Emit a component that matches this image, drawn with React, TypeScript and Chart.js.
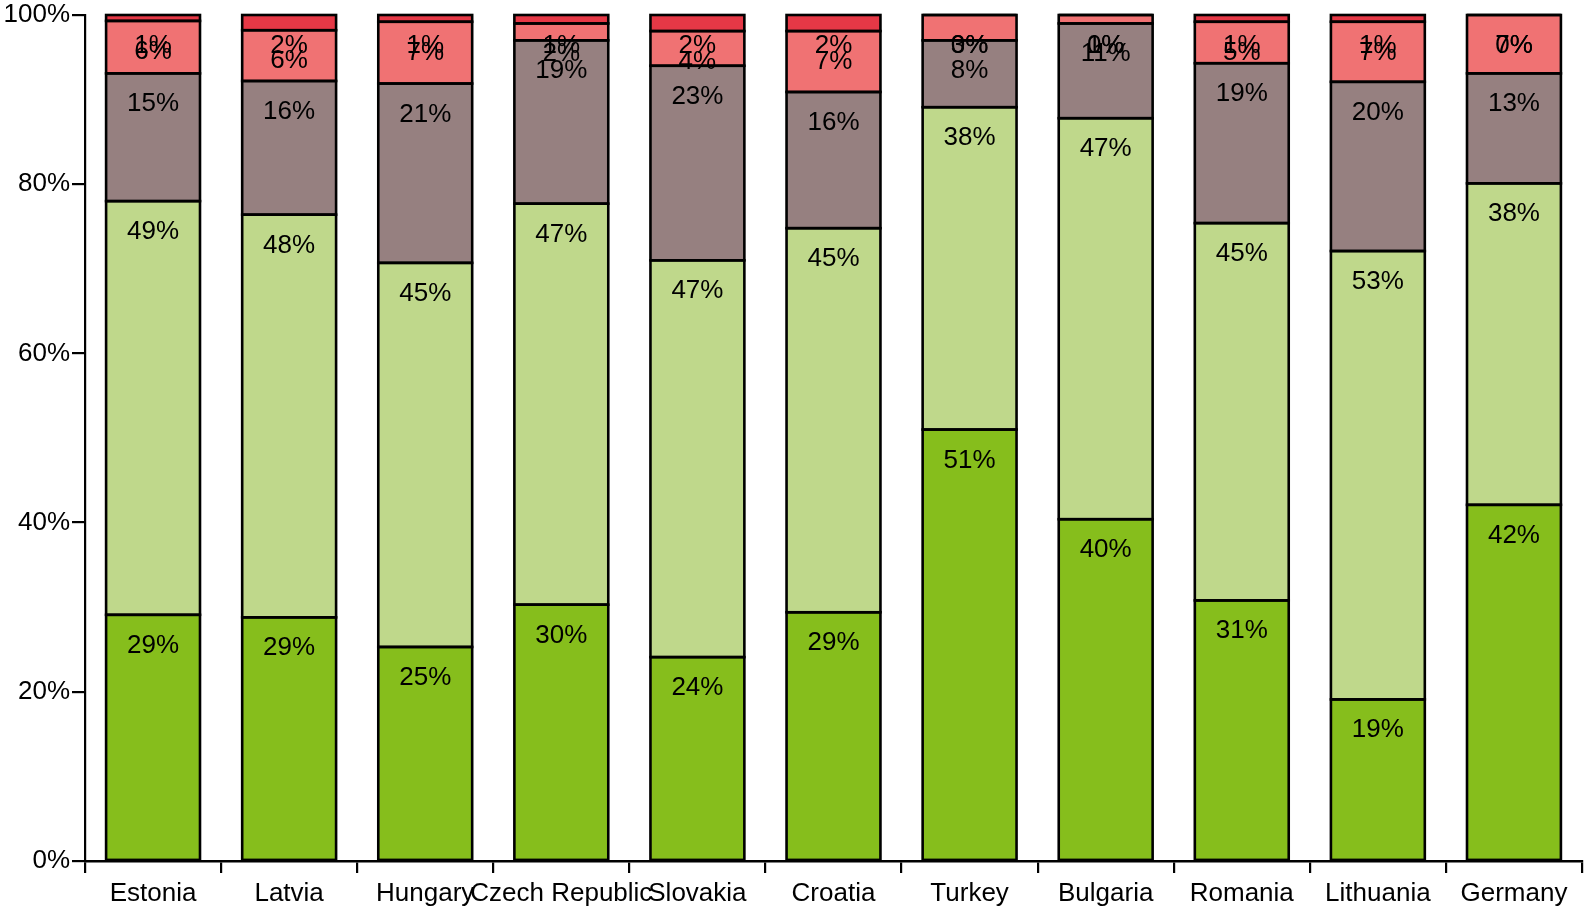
import React, { useEffect, useRef } from "react";
import { Chart, registerables } from "chart.js";

Chart.register(...registerables);

const categories = ["Estonia", "Latvia", "Hungary", "Czech Republic", "Slovakia", "Croatia", "Turkey", "Bulgaria", "Romania", "Lithuania", "Germany"];
const seriesA = [29.1, 28.8, 25.3, 30.3, 24.1, 29.4, 51.0, 40.4, 30.8, 19.1, 42.1];
const seriesB = [48.9, 47.6, 45.4, 47.4, 46.9, 45.4, 38.1, 47.4, 44.6, 53.0, 38.0];
const seriesC = [15.1, 15.8, 21.2, 19.3, 23.0, 16.1, 7.9, 11.2, 18.9, 20.0, 13.0];
const seriesD = [6.2, 6.0, 7.3, 2.0, 4.1, 7.2, 3.0, 1.0, 4.9, 7.1, 6.9];
const seriesE = [0.7, 1.8, 0.8, 1.0, 1.9, 1.9, 0, 0, 0.8, 0.8, 0];
const seriesColors = ["#86BE1C", "#BFD88B", "#968080", "#F07273", "#E53846"];
const yTicks = [0, 20, 40, 60, 80, 100];

const FONT = "'Liberation Sans', Arial, sans-serif";

const barOutlines = {
  id: "barOutlines",
  afterDatasetsDraw(chart: any) {
    const ctx = chart.ctx;
    ctx.save();
    ctx.strokeStyle = "#000";
    ctx.lineWidth = 2.6;
    chart.data.datasets.forEach((_ds: any, di: number) => {
      const meta = chart.getDatasetMeta(di);
      meta.data.forEach((el: any) => {
        const p = el.getProps(["x", "y", "base", "width"], true);
        const top = Math.min(p.y, p.base);
        const h = Math.abs(p.base - p.y);
        ctx.strokeRect(p.x - p.width / 2, top, p.width, h);
      });
    });
    ctx.restore();
  },
};

const valueLabels = {
  id: "valueLabels",
  afterDatasetsDraw(chart: any) {
    const ctx = chart.ctx;
    ctx.save();
    ctx.font = `26px ${FONT}`;
    ctx.fillStyle = "#000";
    ctx.textAlign = "center";
    ctx.textBaseline = "alphabetic";
    chart.data.datasets.forEach((ds: any, di: number) => {
      const meta = chart.getDatasetMeta(di);
      meta.data.forEach((el: any, i: number) => {
        const v = ds.data[i];
        ctx.fillText(`${Math.round(v)}%`, el.x, el.y + 38);
      });
    });
    ctx.restore();
  },
};

export default function App() {
  const ref = useRef<HTMLCanvasElement>(null);
  useEffect(() => {
    const all = [seriesA, seriesB, seriesC, seriesD, seriesE];
    const chart = new Chart(ref.current as HTMLCanvasElement, {
      type: "bar",
      data: {
        labels: categories,
        datasets: all.map((d, i) => ({
          label: `s${i}`,
          data: d,
          backgroundColor: seriesColors[i],
          borderWidth: 0,
          inflateAmount: 0,
          barPercentage: 0.69,
          categoryPercentage: 1,
        })),
      },
      options: {
        responsive: false,
        animation: false,
        devicePixelRatio: 1,
        layout: { padding: { top: 14, right: 3, left: 0, bottom: 0 } },
        plugins: { legend: { display: false }, tooltip: { enabled: false } },
        scales: {
          x: {
            stacked: true,
            offset: true,
            grid: { display: true, offset: true, drawOnChartArea: false, color: "#000", lineWidth: 2.2, tickLength: 12 },
            border: { display: true, color: "#000", width: 2.5 },
            ticks: { color: "#000", font: { family: FONT, size: 26, lineHeight: 1 }, padding: 8, maxRotation: 0, autoSkip: false },
            afterFit: (s: any) => { s.height = 55; },
          },
          y: {
            stacked: true,
            min: 0,
            max: 100,
            afterBuildTicks: (s: any) => { s.ticks = yTicks.map((v) => ({ value: v })); },
            grid: { display: true, drawOnChartArea: false, color: "#000", lineWidth: 2.2, tickLength: 13 },
            border: { display: true, color: "#000", width: 2.2 },
            ticks: { color: "#000", font: { family: FONT, size: 26, lineHeight: 1 }, padding: 2, callback: (v: any) => `${v}%` },
            afterFit: (s: any) => { s.width = 85; },
          },
        },
      },
      plugins: [barOutlines, valueLabels],
    });
    return () => chart.destroy();
  }, []);
  return (
    <div style={{ position: "fixed", left: 0, top: 0, width: 1585, height: 916, background: "#fff" }}>
      <canvas ref={ref} width={1585} height={916} style={{ display: "block" }} />
    </div>
  );
}
